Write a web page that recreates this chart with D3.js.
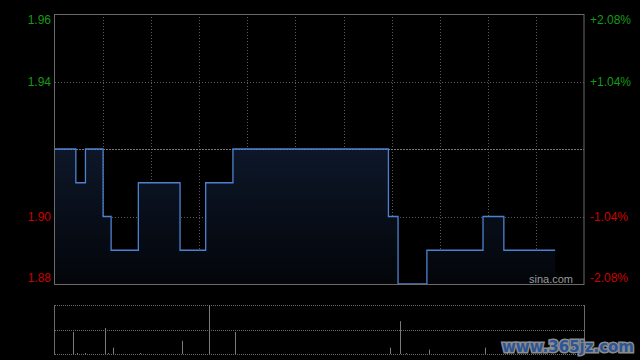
<!DOCTYPE html>
<html>
<head>
<meta charset="utf-8">
<script src="https://cdn.jsdelivr.net/npm/d3@7"></script>
<style>
  body { margin: 0; background: #000; }
</style>
</head>
<body>
<div id="chart"></div>
<script>
// price steps: time of change and the new price
const stepTimes = ["09:30", "09:43", "09:49", "10:00", "10:05", "10:22", "10:48", "11:04", "11:21",
                   "13:58", "14:04", "14:22", "14:57", "15:10", "15:42"];
const stepPrices = [1.92, 1.91, 1.92, 1.90, 1.89, 1.91, 1.89, 1.91, 1.92,
                    1.90, 1.88, 1.89, 1.90, 1.89, 1.89];

// volume bars (relative units)
const volTimes = ["09:41", "09:44", "09:49", "10:01", "10:03", "10:06", "10:23", "10:49", "11:06", "11:22",
                  "13:59", "14:05", "14:09", "14:23", "14:58", "15:12"];
const volValues = [45, 2, 2, 53, 2, 13, 2, 27, 100, 45,
                   13, 67, 2, 9, 13, 2];

const prevClose = 1.92;
const priceTicks = [1.88, 1.90, 1.94, 1.96];

const width = 640, height = 360;
const plotLeft = 55, plotRight = 584, plotTop = 14, plotBottom = 284;
const volTop = 305, volBottom = 354;

// minutes since open, lunch break removed (HK session 09:30-12:00, 13:00-16:00)
const toMin = t => {
  const [h, m] = t.split(":").map(Number);
  const mins = h * 60 + m;
  return mins <= 720 ? mins - 570 : mins - 780 + 150;
};

const svg = d3.select("#chart").append("svg")
  .attr("width", width)
  .attr("height", height)
  .style("background", "#000")
  .style("display", "block");

const x = d3.scaleLinear().domain([0, 330]).range([plotLeft, plotRight]);
const y = d3.scaleLinear().domain([1.88, 1.96]).range([plotBottom, plotTop]);
const yVol = d3.scaleLinear().domain([0, 100]).range([volBottom, volTop]);

const crisp = v => Math.round(v) + 0.5;

// gradient under the price line
const grad = svg.append("defs").append("linearGradient")
  .attr("id", "areaFill")
  .attr("gradientUnits", "userSpaceOnUse")
  .attr("x1", 0).attr("x2", 0)
  .attr("y1", y(prevClose)).attr("y2", plotBottom);
grad.append("stop").attr("offset", "0%").attr("stop-color", "#0d1729");
grad.append("stop").attr("offset", "100%").attr("stop-color", "#030509");

// vertical grid, every half hour
const grid = svg.append("g");
grid.selectAll("line.v")
  .data(d3.range(30, 330, 30))
  .join("line")
  .attr("x1", d => crisp(x(d))).attr("x2", d => crisp(x(d)))
  .attr("y1", plotTop).attr("y2", plotBottom)
  .attr("stroke", "#5a5a5a")
  .attr("stroke-dasharray", "1,2");

// horizontal grid (except prev close, drawn separately)
grid.selectAll("line.h")
  .data(priceTicks.filter(d => d > 1.88 && d < 1.96))
  .join("line")
  .attr("x1", plotLeft).attr("x2", plotRight)
  .attr("y1", d => crisp(y(d))).attr("y2", d => crisp(y(d)))
  .attr("stroke", "#5a5a5a")
  .attr("stroke-dasharray", "1,2");

const pts = stepTimes.map((t, i) => ({ m: toMin(t), p: stepPrices[i] }));

svg.append("path")
  .datum(pts)
  .attr("fill", "url(#areaFill)")
  .attr("d", d3.area().curve(d3.curveStepAfter)
    .x(d => x(d.m)).y0(plotBottom).y1(d => y(d.p)));

// previous close line
svg.append("line")
  .attr("x1", plotLeft).attr("x2", plotRight)
  .attr("y1", crisp(y(prevClose))).attr("y2", crisp(y(prevClose)))
  .attr("stroke", "#777")
  .attr("stroke-dasharray", "2,1");

svg.append("path")
  .datum(pts)
  .attr("fill", "none")
  .attr("stroke", "#4d82d2")
  .attr("stroke-width", 1.3)
  .attr("d", d3.line().curve(d3.curveStepAfter)
    .x(d => x(d.m)).y(d => y(d.p)));

// frame of price chart
svg.append("rect")
  .attr("x", plotLeft - 0.5).attr("y", plotTop + 0.5)
  .attr("width", plotRight - plotLeft + 0.5).attr("height", plotBottom - plotTop)
  .attr("fill", "none")
  .attr("stroke", "#6a6a6a");

// price labels left, percent labels right
const labelColor = d => d >= prevClose ? "#159a15" : "#cc0000";
const labelY = d => Math.min(Math.max(y(d), plotTop + 6), plotBottom - 6) + 4;

svg.selectAll("text.price")
  .data(priceTicks)
  .join("text")
  .attr("x", 51)
  .attr("y", labelY)
  .attr("text-anchor", "end")
  .style("font-family", "'Liberation Sans', Arial, sans-serif")
  .style("font-size", "12px")
  .attr("fill", labelColor)
  .text(d => d.toFixed(2));

svg.selectAll("text.pct")
  .data(priceTicks)
  .join("text")
  .attr("x", 590)
  .attr("y", labelY)
  .style("font-family", "'Liberation Sans', Arial, sans-serif")
  .style("font-size", "12px")
  .attr("fill", labelColor)
  .text(d => {
    const v = (d / prevClose - 1) * 100;
    return (v > 0 ? "+" : "") + v.toFixed(2) + "%";
  });

svg.append("text")
  .attr("x", 573).attr("y", 283)
  .attr("text-anchor", "end")
  .style("font-family", "'Liberation Sans', Arial, sans-serif")
  .style("font-size", "11px")
  .attr("fill", "#9a9a9a")
  .text("sina.com");

// volume panel
const vol = svg.append("g");
[volTop, (volTop + volBottom) / 2, volBottom].forEach(v => {
  vol.append("line")
    .attr("x1", plotLeft).attr("x2", plotRight)
    .attr("y1", crisp(v)).attr("y2", crisp(v))
    .attr("stroke", "#6a6a6a")
    .attr("stroke-dasharray", "1,1");
});

vol.selectAll("line.bar")
  .data(volTimes.map((t, i) => ({ m: toMin(t), v: volValues[i] })))
  .join("line")
  .attr("x1", d => crisp(x(d.m))).attr("x2", d => crisp(x(d.m)))
  .attr("y1", volBottom).attr("y2", d => yVol(d.v))
  .attr("stroke", "#7a7a7a");

// site watermark
svg.append("text")
  .attr("x", 634).attr("y", 352)
  .attr("text-anchor", "end")
  .style("font-family", "'DejaVu Sans', sans-serif")
  .style("font-size", "15px")
  .style("font-weight", "bold")
  .style("paint-order", "stroke")
  .attr("fill", "#2b5596")
  .attr("stroke", "#8c8c8c")
  .attr("stroke-width", 3)
  .text("www.365jz.com");

// volume frame sides drawn over the watermark, as in the source
[plotLeft - 1, plotRight].forEach(v => {
  vol.append("line")
    .attr("x1", crisp(v)).attr("x2", crisp(v))
    .attr("y1", volTop).attr("y2", volBottom + 1)
    .attr("stroke", "#6a6a6a");
});
</script>
</body>
</html>
